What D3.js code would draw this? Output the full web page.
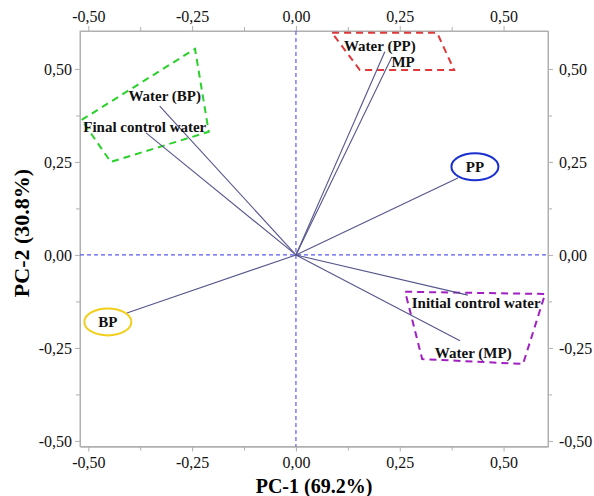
<!DOCTYPE html>
<meta charset="utf-8">
<style>
  body { margin: 0; background: #fff; }
  svg text { font-family: "Liberation Serif", "Times New Roman", serif; }
  .axis path, .axis line { stroke: #b0b0b0; }
  .axis text { font-size: 16px; fill: #111; }
  .lbl { font-size: 15px; font-weight: bold; fill: #111; }
</style>
<body>
<script src="https://d3js.org/d3.v7.min.js"></script>
<script>
  // loadings (PC-1, PC-2)
  var names = ["Water (BP)", "Final control water", "Water (PP)", "MP", "PP", "BP", "Initial control water", "Water (MP)"]
  var pc1 = [-0.328, -0.361, 0.214, 0.231, 0.390, -0.407, 0.414, 0.395]
  var pc2 = [0.400, 0.328, 0.546, 0.532, 0.207, -0.156, -0.108, -0.231]
  // where the label text sits
  var labelX = [-0.316, -0.364, 0.202, 0.258, 0.431, -0.453, 0.434, 0.427]
  var labelY = [0.427, 0.344, 0.562, 0.519, 0.237, -0.180, -0.129, -0.263]

  var majorTicks = [-0.5, -0.25, 0, 0.25, 0.5]
  var minorTicks = [-0.375, -0.125, 0.125, 0.375]

  // dashed group outlines, in data units
  var greenBox = [[-0.516, 0.363], [-0.243, 0.554], [-0.210, 0.331], [-0.446, 0.250]]
  var redBox = [[0.087, 0.597], [0.340, 0.597], [0.381, 0.497], [0.154, 0.497]]
  var purpleBox = [[0.263, -0.099], [0.600, -0.105], [0.547, -0.293], [0.304, -0.280]]

  var width = 594, height = 496
  var mLeft = 80, mRight = 548, mTop = 31, mBottom = 446.5

  var x = d3.scaleLinear().domain([-0.52, 0.607]).range([mLeft, mRight])
  var y = d3.scaleLinear().domain([-0.515, 0.602]).range([mBottom, mTop])

  var loc = d3.formatLocale({ decimal: ",", thousands: ".", grouping: [3], currency: ["", ""], minus: "-" })
  var fmt = loc.format(".2f")

  var svg = d3.select("body").append("svg")
    .attr("width", width)
    .attr("height", height)

  // frame
  svg.append("rect")
    .attr("x", mLeft).attr("y", mTop)
    .attr("width", mRight - mLeft).attr("height", mBottom - mTop)
    .attr("fill", "none").attr("stroke", "#b0b0b0")

  function addAxis(axisFn, scale, tr, pad) {
    svg.append("g").attr("class", "axis").attr("transform", tr)
      .call(axisFn(scale).tickValues(majorTicks).tickFormat(fmt).tickSize(5).tickSizeOuter(0).tickPadding(pad))
    svg.append("g").attr("class", "axis").attr("transform", tr)
      .call(axisFn(scale).tickValues(minorTicks).tickFormat("").tickSize(4).tickSizeOuter(0))
  }
  addAxis(d3.axisBottom, x, "translate(0," + mBottom + ")", 5)
  addAxis(d3.axisTop, x, "translate(0," + mTop + ")", 4)
  addAxis(d3.axisLeft, y, "translate(" + mLeft + ",0)", 3)
  addAxis(d3.axisRight, y, "translate(" + mRight + ",0)", 6)
  svg.selectAll(".axis path.domain").attr("stroke", "#b0b0b0")

  // zero lines
  svg.append("line")
    .attr("x1", x(0)).attr("x2", x(0)).attr("y1", mTop).attr("y2", mBottom)
    .attr("stroke", "#5a5aee").attr("stroke-width", 1.2).attr("stroke-dasharray", "4,3")
  svg.append("line")
    .attr("x1", mLeft).attr("x2", mRight).attr("y1", y(0)).attr("y2", y(0))
    .attr("stroke", "#5a5aee").attr("stroke-width", 1.2).attr("stroke-dasharray", "4,3")

  // group outlines
  var boxes = [
    { pts: greenBox, color: "#2ad12a" },
    { pts: redBox, color: "#e0393b" },
    { pts: purpleBox, color: "#a01fc0" }
  ]
  svg.selectAll(".box").data(boxes).enter().append("polygon")
    .attr("points", d => d.pts.map(p => x(p[0]) + "," + y(p[1])).join(" "))
    .attr("fill", "none")
    .attr("stroke", d => d.color)
    .attr("stroke-width", 2)
    .attr("stroke-dasharray", "7,5")

  var data = names.map((n, i) => ({ name: n, px: pc1[i], py: pc2[i], lx: labelX[i], ly: labelY[i] }))

  // vectors from origin
  svg.append("g").selectAll("line").data(data).enter().append("line")
    .attr("x1", x(0)).attr("y1", y(0))
    .attr("x2", d => x(d.px)).attr("y2", d => y(d.py))
    .attr("stroke", "#55558c").attr("stroke-width", 1.1)

  // ellipses round PP and BP
  var ellColor = { "PP": "#1a2fd0", "BP": "#f2cf1d" }
  svg.append("g").selectAll("ellipse").data(data.filter(d => ellColor[d.name])).enter().append("ellipse")
    .attr("cx", d => x(d.lx)).attr("cy", d => y(d.ly))
    .attr("rx", 23.5).attr("ry", 13.5)
    .attr("fill", "none")
    .attr("stroke", d => ellColor[d.name])
    .attr("stroke-width", 2)

  svg.append("g").selectAll("text").data(data).enter().append("text")
    .attr("class", "lbl")
    .attr("x", d => x(d.lx)).attr("y", d => y(d.ly))
    .attr("text-anchor", "middle")
    .attr("dominant-baseline", "central")
    .text(d => d.name)

  // axis titles
  svg.append("text")
    .attr("x", (mLeft + mRight) / 2).attr("y", 493)
    .attr("text-anchor", "middle")
    .attr("font-size", 20).attr("font-weight", "bold")
    .text("PC-1 (69.2%)")

  svg.append("text")
    .attr("transform", "translate(29," + 233 + ") rotate(-90)")
    .attr("text-anchor", "middle")
    .attr("font-size", 22).attr("font-weight", "bold")
    .text("PC-2 (30.8%)")
</script>
</body>
